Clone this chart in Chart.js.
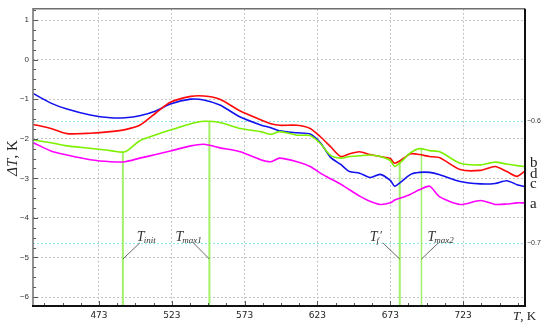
<!DOCTYPE html>
<html>
<head>
<meta charset="utf-8">
<title>ΔT vs T</title>
<script src="https://cdn.jsdelivr.net/npm/chart.js@4.4.1/dist/chart.umd.min.js"></script>
<style>
    html, body { margin: 0; padding: 0; background: #fff; }
    #wrap { width: 550px; height: 328px; }
</style>
</head>
<body>
<div id="wrap"><canvas id="chart" width="550" height="328"></canvas></div>
<script>
// temperatures (K) the curves were read at
const tempK = [428, 440, 451, 467, 481, 491, 501, 512, 522, 536, 545, 556, 570, 584, 591, 597, 609, 618, 625,
    632, 639, 645, 652, 659, 666, 673, 676, 680, 687, 693, 700, 707, 721, 735, 745, 753, 760, 765];

const curveA = [-2.10, -2.31, -2.41, -2.53, -2.58, -2.58, -2.49, -2.40, -2.31, -2.18, -2.14, -2.23, -2.33, -2.53,
    -2.58, -2.49, -2.58, -2.70, -2.87, -3.01, -3.15, -3.29, -3.45, -3.58, -3.66, -3.62, -3.55, -3.50, -3.40, -3.29,
    -3.20, -3.47, -3.66, -3.56, -3.66, -3.65, -3.62, -3.62];
const curveB = [-2.03, -2.10, -2.18, -2.24, -2.30, -2.33, -2.05, -1.90, -1.78, -1.62, -1.56, -1.59, -1.74, -1.82,
    -1.89, -1.82, -1.91, -1.92, -2.12, -2.42, -2.49, -2.45, -2.43, -2.41, -2.45, -2.55, -2.70, -2.60, -2.35, -2.25,
    -2.30, -2.33, -2.62, -2.66, -2.59, -2.64, -2.68, -2.70];
const curveC = [-0.86, -1.10, -1.25, -1.40, -1.47, -1.47, -1.42, -1.30, -1.12, -1.00, -1.02, -1.15, -1.45, -1.65,
    -1.72, -1.80, -1.85, -1.88, -2.10, -2.47, -2.65, -2.83, -2.87, -2.98, -2.90, -3.05, -3.20, -3.10, -2.90, -2.85,
    -2.85, -2.91, -3.08, -3.14, -3.13, -3.06, -3.16, -3.21];
const curveD = [-1.64, -1.74, -1.87, -1.86, -1.82, -1.77, -1.66, -1.35, -1.08, -0.93, -0.92, -1.00, -1.30, -1.52,
    -1.62, -1.66, -1.66, -1.74, -1.95, -2.20, -2.45, -2.38, -2.33, -2.40, -2.45, -2.50, -2.62, -2.55, -2.38, -2.40,
    -2.45, -2.48, -2.78, -2.80, -2.70, -2.83, -2.95, -2.83];

// characteristic temperatures: Tinit, Tmax1, Tf', Tmax2
const markerT = [489.4, 548.8, 679.5, 694.4];
const markerTop = [-2.33, -1.56, -2.60, -2.25];
const markerNames = [['T', 'init', ''], ['T', 'max1', ''], ['T', 'f', '′'], ['T', 'max2', '']];

const xTicks = [473, 523, 573, 623, 673, 723];
const yTicks = [1, 0, -1, -2, -3, -4, -5, -6];
const y2Ticks = [-0.6, -0.7];
const xRange = [427.7, 765.5];
const yRange = [-6.226, 1.283];
const y2Range = [-0.7515, -0.5079];

const minus = (v) => (v < 0 ? '−' + Math.abs(v) : String(v));
const toPoints = (values) => tempK.map((t, i) => ({ x: t, y: values[i] }));

const curve = (label, values, color) => ({
    label,
    data: toPoints(values),
    borderColor: color,
    borderWidth: 1.6,
    pointRadius: 0,
    tension: 0.25,
});

const markers = markerT.map((t, i) => ({
    label: markerNames[i].join(''),
    data: [{ x: t, y: markerTop[i] }, { x: t, y: yRange[0] }],
    borderColor: '#a3f06a',
    borderWidth: i === 3 ? 1.5 : 2,
    pointRadius: 0,
}));

const overlay = {
    id: 'overlay',
    afterDraw(chart, args, opts) {
        const { ctx, chartArea: area, scales: { x, y } } = chart;
        ctx.save();

        // inward minor ticks
        ctx.strokeStyle = '#555';
        ctx.lineWidth = 1;
        ctx.beginPath();
        let t0 = xTicks[0];
        while (t0 - 12.5 >= xRange[0]) t0 -= 12.5;
        for (let t = t0; t <= xRange[1]; t += 12.5) {
            const px = Math.round(x.getPixelForValue(t)) + 0.5;
            const len = (t - xTicks[0]) % 50 === 0 ? 5 : 3;
            ctx.moveTo(px, area.bottom);
            ctx.lineTo(px, area.bottom - len);
        }
        for (let v = -6; v <= 1.25; v += 0.25) {
            const py = Math.round(y.getPixelForValue(v)) + 0.5;
            const len = Number.isInteger(v) ? 5 : 3;
            ctx.moveTo(area.left, py);
            ctx.lineTo(area.left + len, py);
        }
        ctx.stroke();

        // frame
        ctx.lineWidth = 1.5;
        ctx.strokeStyle = '#6f6f6f';
        ctx.beginPath();
        ctx.moveTo(area.left, area.bottom);
        ctx.lineTo(area.left, area.top);
        ctx.lineTo(area.right, area.top);
        ctx.stroke();
        ctx.lineWidth = 2;
        ctx.strokeStyle = '#111';
        ctx.beginPath();
        ctx.moveTo(area.left - 1, area.bottom);
        ctx.lineTo(area.right, area.bottom);
        ctx.lineTo(area.right, area.top);
        ctx.stroke();

        // marker labels with leader lines
        const yb = y.getPixelForValue(-5.04);
        const yt = y.getPixelForValue(-4.63);
        const base = y.getPixelForValue(-4.58);
        ctx.strokeStyle = '#444';
        ctx.lineWidth = 0.8;
        ctx.fillStyle = '#333';
        ctx.textBaseline = 'alphabetic';
        ctx.textAlign = 'left';
        markerNames.forEach(([main, sub, sup], i) => {
            const mx = x.getPixelForValue(markerT[i]);
            ctx.beginPath();
            ctx.moveTo(mx, yb);
            ctx.lineTo(mx + opts.leaderDx[i], yt);
            ctx.stroke();
            const left = mx + opts.textDx[i];
            ctx.font = 'italic 14px "Liberation Serif"';
            ctx.fillText(main, left, base);
            const w = ctx.measureText(main).width;
            ctx.font = 'italic 9px "Liberation Serif"';
            ctx.fillText(sub, left + w - 1, base + 2);
            if (sup) {
                const ws = ctx.measureText(sub).width;
                ctx.font = '12px "Liberation Serif"';
                ctx.fillText(sup, left + w + ws, base - 2);
            }
        });

        // curve names at the right edge
        ctx.font = '15px "Liberation Serif"';
        ctx.fillStyle = '#222';
        opts.curveLabels.forEach(([txt, by]) => ctx.fillText(txt, area.right + 5, by));

        // axis titles
        ctx.save();
        ctx.translate(17, 158);
        ctx.rotate(-Math.PI / 2);
        ctx.font = 'italic 15px "Liberation Serif"';
        const w1 = ctx.measureText('ΔT').width;
        ctx.font = '15px "Liberation Serif"';
        const w2 = ctx.measureText(', K').width;
        const sx = -(w1 + w2) / 2;
        ctx.font = 'italic 15px "Liberation Serif"';
        ctx.fillText('ΔT', sx, 0);
        ctx.font = '15px "Liberation Serif"';
        ctx.fillText(', K', sx + w1, 0);
        ctx.restore();

        ctx.font = 'italic 13px "Liberation Serif"';
        ctx.fillText('T', 513, 320);
        const wt = ctx.measureText('T').width;
        ctx.font = '13px "Liberation Serif"';
        ctx.fillText(', K', 513 + wt, 320);

        ctx.restore();
    },
};

new Chart(document.getElementById('chart'), {
    type: 'line',
    data: {
        datasets: [
            curve('a', curveA, '#ff00ff'),
            curve('b', curveB, '#7cf000'),
            curve('d', curveD, '#ff0a0a'),
            curve('c', curveC, '#1212f0'),
            ...markers,
        ],
    },
    options: {
        responsive: false,
        animation: false,
        layout: { padding: { top: 6, left: 0, right: 0, bottom: 0 } },
        plugins: {
            legend: { display: false },
            tooltip: { enabled: false },
            overlay: {
                leaderDx: [17, -16, -17, 17],
                textDx: [14, -34, -30, 6],
                curveLabels: [['b', 167], ['d', 178], ['c', 188], ['a', 208]],
            },
        },
        scales: {
            x: {
                type: 'linear',
                min: xRange[0],
                max: xRange[1],
                afterBuildTicks: (scale) => { scale.ticks = xTicks.map((v) => ({ value: v })); },
                afterFit: (scale) => { scale.height = 22; },
                grid: { color: '#c4c4c4', lineWidth: 1, drawTicks: false },
                border: { display: false, dash: [2, 2] },
                ticks: {
                    padding: 4,
                    color: '#222',
                    font: { family: 'DejaVu Sans', size: 9 },
                    callback: (v) => String(v),
                },
            },
            y: {
                type: 'linear',
                position: 'left',
                min: yRange[0],
                max: yRange[1],
                afterBuildTicks: (scale) => { scale.ticks = yTicks.map((v) => ({ value: v })); },
                afterFit: (scale) => { scale.width = 33; },
                grid: { color: '#c4c4c4', lineWidth: 1, drawTicks: false },
                border: { display: false, dash: [2, 2] },
                ticks: {
                    padding: 4,
                    color: '#333',
                    font: { family: 'Liberation Sans', size: 8 },
                    callback: (v) => minus(v),
                },
            },
            y2: {
                type: 'linear',
                position: 'right',
                min: y2Range[0],
                max: y2Range[1],
                afterBuildTicks: (scale) => { scale.ticks = y2Ticks.map((v) => ({ value: v })); },
                afterFit: (scale) => { scale.width = 25; },
                grid: { color: '#8ee6ee', lineWidth: 1, drawTicks: false },
                border: { display: false, dash: [2, 2] },
                ticks: {
                    padding: 2,
                    color: '#333',
                    font: { family: 'Liberation Sans', size: 7 },
                    callback: (v) => minus(v),
                },
            },
        },
    },
    plugins: [overlay],
});
</script>
</body>
</html>
